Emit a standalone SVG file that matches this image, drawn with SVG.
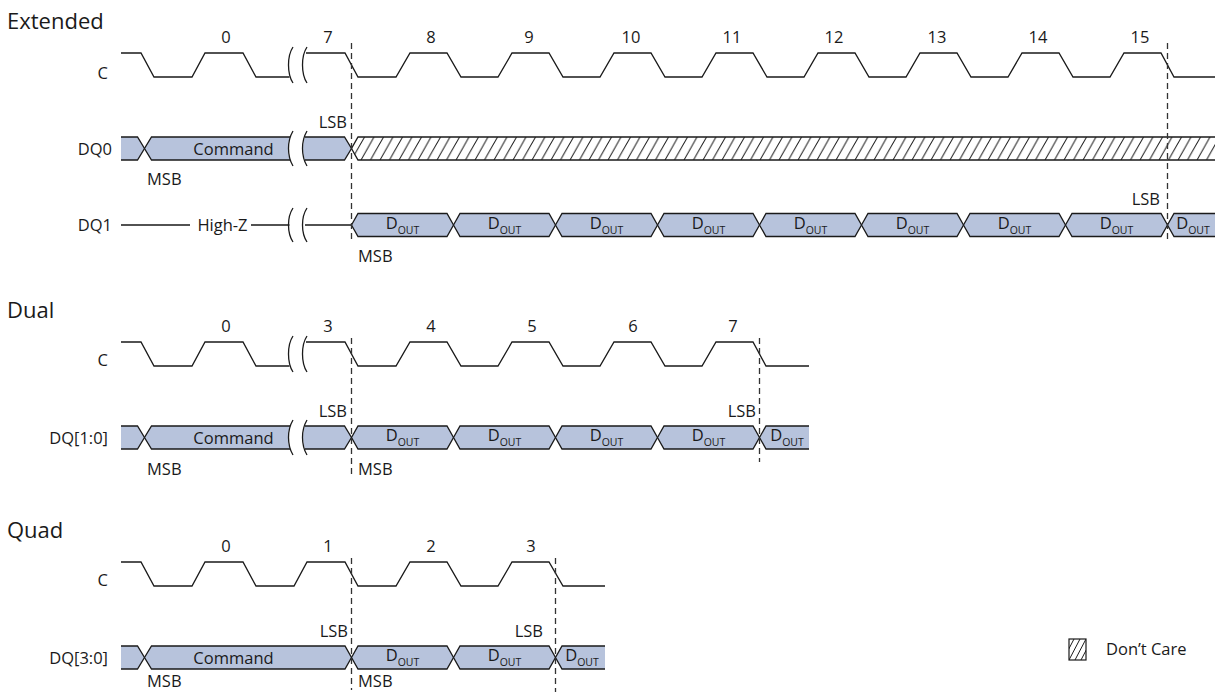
<svg xmlns="http://www.w3.org/2000/svg" width="1215" height="692" viewBox="0 0 1215 692">
<style>
.w{fill:none;stroke:#1a1a1a;stroke-width:1.3;stroke-linejoin:miter}
.bf{fill:#b7c3dc;stroke:none}
.hx{fill:#b7c3dc;stroke:#1a1a1a;stroke-width:1.3}
.dash{fill:none;stroke:#333;stroke-width:1.3;stroke-dasharray:6 4}
text{font-family:"Open Sans","Noto Sans","Liberation Sans",sans-serif;font-size:16.5px;fill:#1a1a1a}
.title{font-size:22px}
.sub{font-size:10.5px}
.m{text-anchor:middle}
.e{text-anchor:end}
</style>
<defs>
<pattern id="hatch" patternUnits="userSpaceOnUse" x="0" y="137" width="9.5" height="23"><path d="M-9.5,23 L3.5,0 M0,23 L13,0 M9.5,23 L22.5,0" stroke="#1a1a1a" stroke-width="1" fill="none"/></pattern>
<pattern id="hatch2" patternUnits="userSpaceOnUse" x="1069" y="639" width="6" height="21"><path d="M-6,21 L5,0 M0,21 L11,0 M6,21 L17,0" stroke="#1a1a1a" stroke-width="1" fill="none"/></pattern>
</defs>
<rect width="1215" height="692" fill="#fff"/>

<g id="extended">
<text class="title" x="7" y="29">Extended</text>
<g id="ext-clock">
<text class="e" x="108" y="79">C</text>
<text class="m" x="226" y="43">0</text><text class="m" x="328" y="43">7</text><text class="m" x="431" y="43">8</text><text class="m" x="529" y="43">9</text><text class="m" x="631" y="43">10</text><text class="m" x="732" y="43">11</text><text class="m" x="834" y="43">12</text><text class="m" x="937" y="43">13</text><text class="m" x="1038" y="43">14</text><text class="m" x="1140" y="43">15</text>
<path class="w" d="M121,53 H141 L154,77 H192 L205,53 H243 L256,77 H289.5"/>
<path class="w" d="M306,53 H345 L358,77 H396 L410,53 H447 L461,77 H498 L512,53 H549 L563,77 H600 L614,53 H651 L665,77 H702 L716,53 H753 L767,77 H804 L818,53 H855 L869,77 H906 L920,53 H957 L971,77 H1008 L1022,53 H1059 L1073,77 H1110 L1124,53 H1161 L1174,77 H1215"/>
<path class="w" d="M293,47 C287,56 287,74 293,83 M307,47 C301,56 301,74 307,83"/>
</g>
<g id="ext-dq0">
<text class="e" x="112" y="154.5">DQ0</text>
<path class="bf" d="M121,137 H137.5 L144.5,148.5 L137.5,160 H121 Z"/>
<path class="w" d="M121,137 H137.5 L144.5,148.5 L137.5,160 H121"/>
<path class="bf" d="M144.5,148.5 L151.5,137 H290 C287.5,143 287.5,154 290,160 H151.5 Z"/>
<path class="w" d="M290,137 H151.5 L144.5,148.5 L151.5,160 H290"/>
<path class="bf" d="M305,137 H344.5 L351.5,148.5 L344.5,160 H305 C302.5,154 302.5,143 305,137 Z"/>
<path class="w" d="M305,137 H344.5 L351.5,148.5 L344.5,160 H305"/>
<path class="w" d="M293,131 C287,141 287,156 293,166 M307,131 C301,141 301,156 307,166"/>
<path d="M351.5,148.5 L358,137 H1215 V160 H358 Z" fill="url(#hatch)"/>
<path class="w" d="M1215,137 H358 L351.5,148.5 L358,160 H1215"/>
<text class="m" x="233.5" y="154.5">Command</text>
<text class="e" x="347" y="128">LSB</text>
<text x="147" y="185">MSB</text>
</g>
<g id="ext-dq1">
<text class="e" x="112" y="231">DQ1</text>
<path class="w" d="M121,225 H190 M251,225 H289.5 M305,225 H351.5"/>
<text class="m" x="222.5" y="231">High-Z</text>
<path class="w" d="M293,208 C287,217 287,233 293,242 M307,208 C301,217 301,233 307,242"/>
<polygon class="hx" points="351.5,225 358,213.5 447,213.5 453.5,225 447,236.5 358,236.5"/>
<polygon class="hx" points="453.5,225 460,213.5 549,213.5 555.5,225 549,236.5 460,236.5"/>
<polygon class="hx" points="555.5,225 562,213.5 651,213.5 657.5,225 651,236.5 562,236.5"/>
<polygon class="hx" points="657.5,225 664,213.5 753,213.5 759.5,225 753,236.5 664,236.5"/>
<polygon class="hx" points="759.5,225 766,213.5 855,213.5 861.5,225 855,236.5 766,236.5"/>
<polygon class="hx" points="861.5,225 868,213.5 957,213.5 963.5,225 957,236.5 868,236.5"/>
<polygon class="hx" points="963.5,225 970,213.5 1059,213.5 1065.5,225 1059,236.5 970,236.5"/>
<polygon class="hx" points="1065.5,225 1072,213.5 1161,213.5 1167.5,225 1161,236.5 1072,236.5"/>
<path class="bf" d="M1167.5,225 L1174,213.5 H1215 V236.5 H1174 Z"/>
<path class="w" d="M1215,213.5 H1174 L1167.5,225 L1174,236.5 H1215"/>
<text class="m" x="402.5" y="228.5">D<tspan class="sub" dy="5">OUT</tspan></text>
<text class="m" x="504.5" y="228.5">D<tspan class="sub" dy="5">OUT</tspan></text>
<text class="m" x="606.5" y="228.5">D<tspan class="sub" dy="5">OUT</tspan></text>
<text class="m" x="708.5" y="228.5">D<tspan class="sub" dy="5">OUT</tspan></text>
<text class="m" x="810.5" y="228.5">D<tspan class="sub" dy="5">OUT</tspan></text>
<text class="m" x="912.5" y="228.5">D<tspan class="sub" dy="5">OUT</tspan></text>
<text class="m" x="1014.5" y="228.5">D<tspan class="sub" dy="5">OUT</tspan></text>
<text class="m" x="1116.5" y="228.5">D<tspan class="sub" dy="5">OUT</tspan></text>
<text class="m" x="1193" y="228.5">D<tspan class="sub" dy="5">OUT</tspan></text>
<text class="e" x="1160" y="205">LSB</text>
<text x="358" y="262">MSB</text>
</g>
</g>

<g id="dual">
<text class="title" x="7" y="318">Dual</text>
<g id="dual-clock">
<text class="e" x="108" y="366">C</text>
<text class="m" x="226" y="332">0</text><text class="m" x="328" y="332">3</text><text class="m" x="431" y="332">4</text><text class="m" x="532" y="332">5</text><text class="m" x="633" y="332">6</text><text class="m" x="733" y="332">7</text>
<path class="w" d="M121,342 H141 L154,366 H192 L205,342 H243 L256,366 H289.5"/>
<path class="w" d="M306,342 H345 L358,366 H396 L410,342 H447 L461,366 H498 L512,342 H549 L563,366 H600 L614,342 H651 L665,366 H702 L716,342 H753 L766,366 H809"/>
<path class="w" d="M293,336 C287,345 287,363 293,372 M307,336 C301,345 301,363 307,372"/>
</g>
<g id="dual-dq">
<text class="e" x="108" y="443.5">DQ[1:0]</text>
<path class="bf" d="M121,426 H137.5 L144.5,437.5 L137.5,449 H121 Z"/>
<path class="w" d="M121,426 H137.5 L144.5,437.5 L137.5,449 H121"/>
<path class="bf" d="M144.5,437.5 L151.5,426 H290 C287.5,432 287.5,443 290,449 H151.5 Z"/>
<path class="w" d="M290,426 H151.5 L144.5,437.5 L151.5,449 H290"/>
<path class="bf" d="M305,426 H344.5 L351.5,437.5 L344.5,449 H305 C302.5,443 302.5,432 305,426 Z"/>
<path class="w" d="M305,426 H344.5 L351.5,437.5 L344.5,449 H305"/>
<path class="w" d="M293,420 C287,430 287,445 293,455 M307,420 C301,430 301,445 307,455"/>
<polygon class="hx" points="351.5,437.5 358,426 447,426 453.5,437.5 447,449 358,449"/>
<polygon class="hx" points="453.5,437.5 460,426 549,426 555.5,437.5 549,449 460,449"/>
<polygon class="hx" points="555.5,437.5 562,426 651,426 657.5,437.5 651,449 562,449"/>
<polygon class="hx" points="657.5,437.5 664,426 753,426 759.5,437.5 753,449 664,449"/>
<path class="bf" d="M759.5,437.5 L766,426 H809 V449 H766 Z"/>
<path class="w" d="M809,426 H766 L759.5,437.5 L766,449 H809"/>
<text class="m" x="233.5" y="443.5">Command</text>
<text class="m" x="402.5" y="441">D<tspan class="sub" dy="5">OUT</tspan></text>
<text class="m" x="504.5" y="441">D<tspan class="sub" dy="5">OUT</tspan></text>
<text class="m" x="606.5" y="441">D<tspan class="sub" dy="5">OUT</tspan></text>
<text class="m" x="708.5" y="441">D<tspan class="sub" dy="5">OUT</tspan></text>
<text class="m" x="787" y="441">D<tspan class="sub" dy="5">OUT</tspan></text>
<text class="e" x="347" y="417">LSB</text>
<text class="e" x="756" y="417">LSB</text>
<text x="147" y="475">MSB</text>
<text x="358" y="475">MSB</text>
</g>
</g>

<g id="quad">
<text class="title" x="7" y="538">Quad</text>
<g id="quad-clock">
<text class="e" x="108" y="586">C</text>
<text class="m" x="226" y="552">0</text><text class="m" x="328" y="552">1</text><text class="m" x="431" y="552">2</text><text class="m" x="531" y="552">3</text>
<path class="w" d="M121,562 H141 L154,586 H192 L205,562 H243 L256,586 H294 L307,562 H345 L358,586 H396 L410,562 H447 L461,586 H498 L512,562 H549 L563,586 H605"/>
</g>
<g id="quad-dq">
<text class="e" x="108" y="663.5">DQ[3:0]</text>
<path class="bf" d="M121,646 H137.5 L144.5,657.5 L137.5,669 H121 Z"/>
<path class="w" d="M121,646 H137.5 L144.5,657.5 L137.5,669 H121"/>
<polygon class="hx" points="144.5,657.5 151.5,646 345,646 351.5,657.5 345,669 151.5,669"/>
<polygon class="hx" points="351.5,657.5 358,646 447,646 453.5,657.5 447,669 358,669"/>
<polygon class="hx" points="453.5,657.5 460,646 549,646 555.5,657.5 549,669 460,669"/>
<path class="bf" d="M555.5,657.5 L562,646 H605 V669 H562 Z"/>
<path class="w" d="M605,646 H562 L555.5,657.5 L562,669 H605"/>
<text class="m" x="233.5" y="663.5">Command</text>
<text class="m" x="402.5" y="661">D<tspan class="sub" dy="5">OUT</tspan></text>
<text class="m" x="504.5" y="661">D<tspan class="sub" dy="5">OUT</tspan></text>
<text class="m" x="582" y="661">D<tspan class="sub" dy="5">OUT</tspan></text>
<text class="e" x="348" y="637">LSB</text>
<text class="e" x="543" y="637">LSB</text>
<text x="147" y="687">MSB</text>
<text x="358" y="687">MSB</text>
</g>
</g>

<g id="connectors">
<line class="dash" x1="351.5" y1="43" x2="351.5" y2="241"/>
<line class="dash" x1="1167.5" y1="43" x2="1167.5" y2="241"/>
<line class="dash" x1="351.5" y1="338" x2="351.5" y2="478"/>
<line class="dash" x1="759.5" y1="338" x2="759.5" y2="462"/>
<line class="dash" x1="351.5" y1="558" x2="351.5" y2="690"/>
<line class="dash" x1="555.5" y1="558" x2="555.5" y2="692"/>
</g>

<g id="legend">
<rect x="1069" y="639" width="17" height="21" fill="url(#hatch2)" stroke="#1a1a1a" stroke-width="1.2"/>
<text x="1106" y="655">Don’t Care</text>
</g>
</svg>
